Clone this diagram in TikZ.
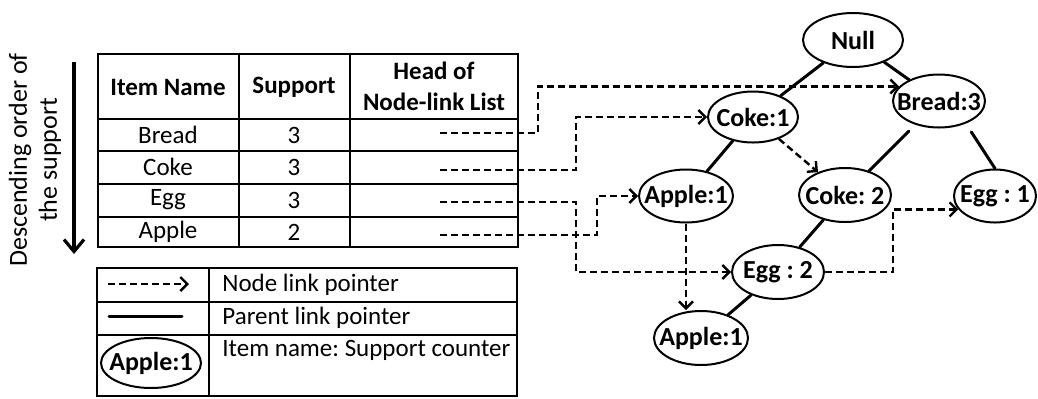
\documentclass[tikz,border=0pt]{standalone}
\usepackage{fontspec}
\setmainfont{Carlito}
\usepackage{tikz}
\usetikzlibrary{arrows.meta}
\usetikzlibrary{shapes.geometric}
\usetikzlibrary{calc}
\tikzset{>={Straight Barb[length=3.5pt,width=7pt]}}
\frenchspacing
\newcommand\gridwidth{1.1pt}
\newcommand\parentwidth{1.5pt}
\newcommand\linkwidth{1.2pt}
\newcommand\ovalwidth{1pt}
\newcommand\labelfont{\fontsize{12.5}{15}\selectfont}
\newcommand\ovalfont{\fontsize{13}{15}\selectfont\bfseries}
\tikzstyle{grid}    = [line width=\gridwidth]
\tikzstyle{parent}  = [line width=\parentwidth, line cap=round]
\tikzstyle{link}    = [line width=\linkwidth, dash pattern=on 3.5pt off 2pt, ->]
\tikzstyle{fpnode}  = 
 [ellipse, draw, line width=\ovalwidth, inner xsep=-8pt, inner ysep=0pt,
  minimum width=46pt, minimum height=26.5pt, font=\ovalfont]
\tikzstyle{headtext} = [font=\labelfont\bfseries]

\begin{document}
\begin{tikzpicture}[x=.5pt, y=-.5pt]
  \tikzstyle{every node}=[font=\labelfont]
  \useasboundingbox (0, 0) rectangle (1038, 398);
  % order of the support
  \draw (35, 160) node[rotate=90, align=center, font=\fontsize{13}{15}\selectfont] (order) {Descending order of\\the support};
  \coordinate (ordtop) at (74, 62);
  \coordinate (ordbot) at (74, 254);
  \draw[line width=1.6pt, -{Straight Barb[length=6pt,width=10pt]}] (ordtop) -- (ordbot);
  % header table
  \draw[grid] (98, 54) rectangle (518, 247);
  \draw[grid] (98, 119) -- (518, 119);
  \draw[grid] (98, 151) -- (518, 151);
  \draw[grid] (98, 184) -- (518, 184);
  \draw[grid] (98, 217) -- (518, 217);
  \draw[grid] (239, 54) -- (239, 247);
  \draw[grid] (350, 54) -- (350, 247);
  \draw (168, 87) node[headtext] (hitem) {Item Name};
  \draw (294, 87) node[headtext] (hsupp) {Support};
  \draw (434, 86) node[headtext, align=center, font=\fontsize{12.5}{15.5}\selectfont\bfseries] (hhead) {Head of\\Node-link List};
  \draw (168, 135) node (ibread) {Bread};
  \draw (294, 135) node (sbread) {3};
  \draw (168, 167) node (icoke) {Coke};
  \draw (294, 167) node (scoke) {3};
  \draw (168, 200) node (iegg) {Egg};
  \draw (294, 200) node (segg) {3};
  \draw (168, 232) node (iapple) {Apple};
  \draw (294, 232) node (sapple) {2};
  \coordinate (hbread) at (440, 133);
  \coordinate (hcoke) at (440, 170);
  \coordinate (hegg) at (440, 202);
  \coordinate (happle) at (440, 235);
  % legend
  \draw[grid] (97, 268) rectangle (517, 396);
  \draw[grid] (97, 302) -- (517, 302);
  \draw[grid] (97, 335) -- (517, 335);
  \draw[grid] (209, 268) -- (209, 396);
  \coordinate (lgla) at (108, 284);
  \coordinate (lglb) at (189, 284);
  \coordinate (lgpa) at (109, 316);
  \coordinate (lgpb) at (182, 316);
  \draw[link] (lgla) -- (lglb);
  \draw[parent] (lgpa) -- (lgpb);
  \draw (151, 363) node[fpnode, minimum width=50pt, minimum height=25pt] (lgnode) {Apple:1};
  \draw (222, 285) node[anchor=west, inner xsep=0pt] (lgltext) {Node link pointer};
  \draw (222, 318) node[anchor=west, inner xsep=0pt] (lgptext) {Parent link pointer};
  \draw (222, 350) node[anchor=west, inner xsep=0pt] (lgntext) {Item name: Support counter};
  % FP-tree
  \draw (853, 40) node[fpnode, minimum width=50pt, minimum height=27pt] (null) {Null};
  \draw (753, 117) node[fpnode, minimum width=45pt, minimum height=25.5pt] (coke1) {Coke:1};
  \draw (939, 101) node[fpnode] (bread) {Bread:3};
  \draw (686, 196) node[fpnode, minimum width=47pt] (apple1) {Apple:1};
  \draw (845, 195) node[fpnode, minimum height=27pt] (coke2) {Coke: 2};
  \draw (995, 196) node[fpnode, minimum width=41pt] (egg1) {Egg : 1};
  \draw (778, 272) node[fpnode, minimum height=27pt] (egg2) {Egg : 2};
  \draw (701, 338) node[fpnode, minimum width=47pt, minimum height=27pt] (apple2) {Apple:1};
  \draw[parent] (null) -- (coke1);
  \draw[parent] (null) -- (bread);
  \draw[parent] (coke1) -- (apple1);
  \draw[parent, shorten <=4.5pt] (bread) -- (coke2);
  \draw[parent, shorten <=5pt] (bread.-40) -- (egg1.north);
  \draw[parent] (coke2) -- (egg2);
  \draw[parent] (egg2) -- (apple2);
  % node links
  \draw[link] (hbread) -- ++(98, 0) |- (bread.160);
  \draw[link] (hcoke) -- ++(136, 0) |- (coke1.west);
  \draw[link] (hegg) -- ++(136, 0) |- (egg2.west);
  \draw[link] (happle) -- ++(157, 0) |- (apple1.west);
  \draw[link] (coke1) -- (coke2);
  \draw[link] (apple1.south) -- (apple1.south |- apple2.north);
  \draw[link] (egg2.east) -- ++(68, 0) |- (egg1.200);
\end{tikzpicture}
\end{document}
